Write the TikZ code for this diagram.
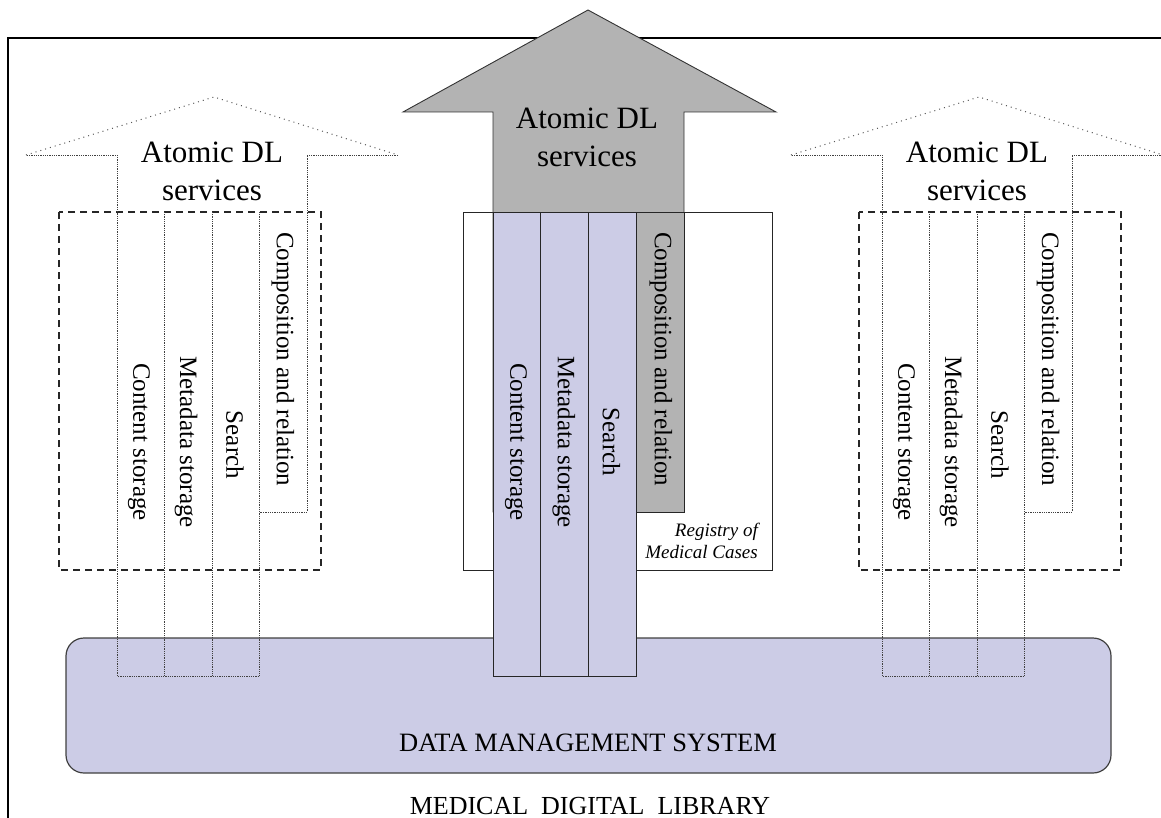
\documentclass[tikz,border=0pt]{standalone}
\usepackage{fontspec}
\setmainfont{Liberation Serif}
\usetikzlibrary{positioning}
\definecolor{lavender}{RGB}{204,204,230}
\definecolor{arrowgray}{RGB}{179,179,179}
\tikzstyle{fine} = [draw=black!75,line width=0.9pt,dash pattern=on 0.9pt off 0.9pt]
\tikzstyle{sparse} = [draw=black!65,line width=1pt,dash pattern=on 1pt off 4pt]
\tikzstyle{dashbox} = [draw=black!85,line width=1.3pt,dash pattern=on 7pt off 5pt]
\tikzstyle{column} = [draw=black!85,line width=0.9pt]
\tikzstyle{bigarrow} = [draw=black!80,line width=0.9pt,fill=arrowgray]
\tikzstyle{coltext} = [rotate=-90,inner sep=0,font=\fontsize{25}{28}\selectfont]
\tikzstyle{atomic} = [align=center,inner sep=0,font=\fontsize{31}{38}\selectfont]
\def \cw {47.5}

\begin{document}
\begin{tikzpicture}[x=1pt,y=-1pt]
  \useasboundingbox (0,0) rectangle (1161,818);
  % outer frame
  \draw[line width=2pt] (8,818) -- (8,38) -- (1161,38);
  % data management system
  \draw[draw=black!75,line width=1.2pt,fill=lavender,rounded corners=18pt] (66,638) rectangle (1111,773);
  \node[font=\fontsize{26.5}{30}\selectfont] (dms) at (588,743) {DATA MANAGEMENT SYSTEM};
  \node[font=\fontsize{26}{30}\selectfont] (mdl) at (590,806) {MEDICAL\ \ DIGITAL\ \ LIBRARY};
  % dotted blocks
  \foreach \cx/\bl/\br/\nm in {117/59/321/l, 882/859/1121/r} {
    \draw[dashbox] (\bl,212) rectangle (\br,570);
    \draw[fine] (\cx,676) -- (\cx,155) -- (\cx-91,155);
    \draw[sparse] (\cx-91,155) -- (\cx+97,97) -- (\cx+281,155);
    \draw[fine] (\cx+281,155) -- (\cx+190,155) -- (\cx+190,512) -- (\cx+142.5,512);
    \draw[fine] (\cx+142.5,212) -- (\cx+142.5,676) -- (\cx,676);
    \draw[fine] (\cx+\cw,212) -- (\cx+\cw,676);
    \draw[fine] (\cx+2*\cw,212) -- (\cx+2*\cw,676);
    \node[atomic] (atomic-\nm) at (\cx+95,171) {Atomic DL\\services};
    \node[coltext] (cs-\nm) at (\cx+22,442) {Content storage};
    \node[coltext] (ms-\nm) at (\cx+69,442) {Metadata storage};
    \node[coltext] (se-\nm) at (\cx+118,445) {Search};
    \node[coltext,anchor=west] (cr-\nm) at (\cx+166,232) {Composition and relation};
  }
  % registry of medical cases
  \draw[column,fill=white] (463,212) rectangle (772,570);
  \node[align=right,anchor=east,inner sep=0,font=\itshape\fontsize{19}{22}\selectfont] (reg) at (758,541) {Registry of\\Medical Cases};
  \filldraw[bigarrow] (493,512) -- (493,112) -- (403,112) -- (588,10) -- (776,112) -- (684,112) -- (684,512) -- cycle;
  \node[atomic] (atomic-c) at (587,137) {Atomic DL\\services};
  \foreach \i/\txt/\nm in {0/Content storage/cs, 1/Metadata storage/ms, 2/Search/se} {
    \draw[column,fill=lavender] (493+\i*47.75,212) rectangle ++(47.75,464);
    \node[coltext] (\nm-c) at (493+\i*47.75+23,442) {\txt};
  }
  \draw[column,fill=arrowgray] (636.25,212) rectangle (684,512);
  \node[coltext,anchor=west] (cr-c) at (661,232) {Composition and relation};
\end{tikzpicture}
\end{document}
